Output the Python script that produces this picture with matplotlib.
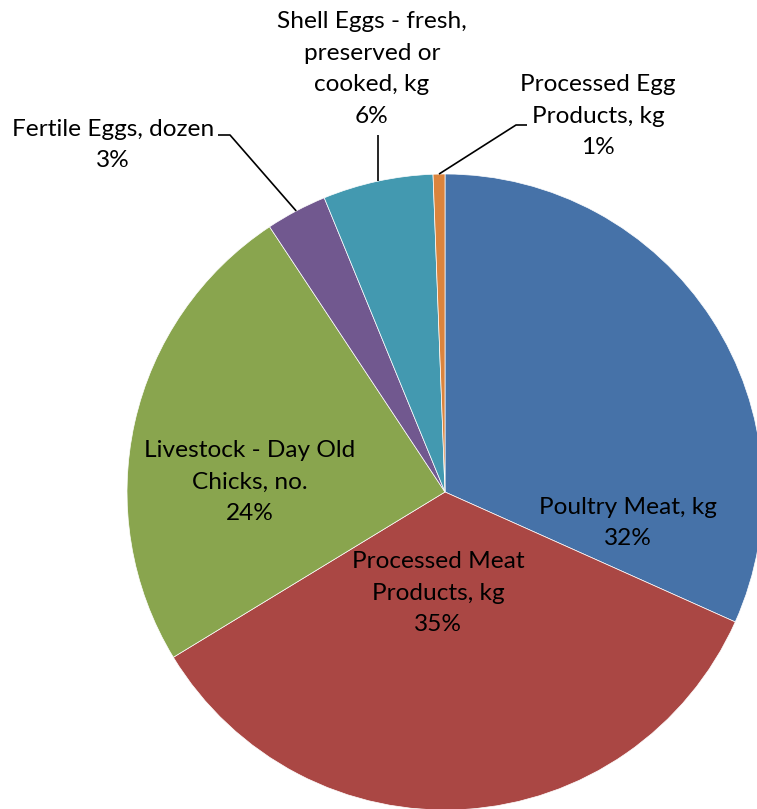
import numpy as np
import matplotlib
matplotlib.use("Agg")
import matplotlib.pyplot as plt

categories = ["Poultry Meat, kg", "Processed Meat\nProducts, kg", "Livestock - Day Old\nChicks, no.",
              "Fertile Eggs, dozen", "Shell Eggs - fresh,\npreserved or\ncooked, kg", "Processed Egg\nProducts, kg"]
values = [31.7, 34.6, 24.4, 3.1, 5.6, 0.6]
colors = ["#4672A8", "#AA4744", "#89A54E", "#71588F", "#4399B0", "#DB843D"]

W, H = 757, 809
fig = plt.figure(figsize=(W / 100, H / 100), dpi=100)
ax = fig.add_axes([0, 0, 1, 1])

cx, cy, R = 445, H - 492, 318
wedges, _ = ax.pie(values, colors=colors, startangle=90, counterclock=False,
                   center=(cx, cy), radius=R, frame=True,
                   wedgeprops=dict(edgecolor="white", linewidth=0.5))
ax.set_xlim(0, W)
ax.set_ylim(0, H)
ax.set_aspect("equal")
ax.axis("off")

total = sum(values)
pcts = [f"{v / total * 100:.0f}%" for v in values]

font = dict(family="Lato", fontsize=17.6, color="black", ha="center", va="center", linespacing=1.62)

# label anchor positions (image pixel coords, y down)
label_pos = [(628, 523), (438, 593), (250, 482), (113, 145), (372, 69), (598, 116)]
for i, (lx, ly) in enumerate(label_pos):
    txt = categories[i] + "\n" + pcts[i]
    ax.text(lx, H - ly, txt, **font)

# leader lines for small outside slices
leader_text_end = {3: [(230, 135), (218, 135)], 4: [(379, 135)], 5: [(516, 125), (527, 125)]}
for i, pts in leader_text_end.items():
    w = wedges[i]
    mid = np.deg2rad((w.theta1 + w.theta2) / 2)
    ex, ey = cx + R * np.cos(mid), cy + R * np.sin(mid)
    xs = [ex] + [p[0] for p in pts]
    ys = [ey] + [H - p[1] for p in pts]
    if i == 4:
        xs[1] = ex
    ax.plot(xs, ys, color="black", lw=1.2, solid_capstyle="butt")

fig.savefig("out.png", dpi=100)
